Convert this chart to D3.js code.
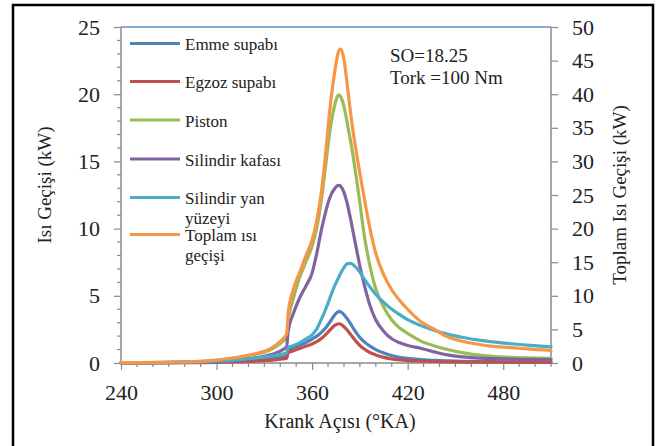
<!DOCTYPE html>
<html>
<head>
<meta charset="utf-8">
<script src="https://cdn.jsdelivr.net/npm/d3@7"></script>
<style>
  html, body { margin: 0; padding: 0; background: #fff; }
  svg { display: block; }
  text { font-family: "Liberation Serif", "DejaVu Serif", serif; fill: #222; }
</style>
</head>
<body>
<svg id="chart" width="660" height="446"></svg>
<script>
// ---- data ----
const angles = [240, 260, 280, 290, 300, 310, 320, 330, 335, 340, 343, 344, 345, 348, 352, 356, 360, 363, 366, 368, 370, 372, 374, 376, 377, 378, 380, 382, 384, 386, 388, 390, 393, 396, 400, 405, 410, 415, 420, 428, 436, 445, 455, 465, 475, 485, 495, 510];

const emme = [0.01, 0.02, 0.04, 0.06, 0.09, 0.14, 0.2, 0.28, 0.33, 0.42, 0.48, 0.5, 0.98, 1.12, 1.3, 1.52, 1.78, 2.0, 2.3, 2.55, 2.85, 3.2, 3.55, 3.78, 3.84, 3.8, 3.6, 3.3, 2.95, 2.55, 2.2, 1.9, 1.55, 1.28, 1.0, 0.75, 0.55, 0.42, 0.34, 0.26, 0.2, 0.16, 0.13, 0.11, 0.1, 0.09, 0.08, 0.08];
const egzoz = [0.01, 0.01, 0.02, 0.03, 0.05, 0.08, 0.12, 0.18, 0.22, 0.28, 0.33, 0.35, 0.78, 0.9, 1.08, 1.25, 1.42, 1.6, 1.85, 2.05, 2.3, 2.55, 2.78, 2.9, 2.92, 2.88, 2.7, 2.45, 2.15, 1.85, 1.55, 1.3, 1.02, 0.8, 0.6, 0.42, 0.3, 0.23, 0.18, 0.14, 0.11, 0.09, 0.07, 0.06, 0.06, 0.05, 0.05, 0.05];
const piston = [0.02, 0.03, 0.07, 0.12, 0.2, 0.35, 0.55, 0.8, 1.05, 1.45, 1.75, 1.85, 3.1, 4.7, 6.3, 7.5, 8.7, 10.1, 12.3, 14.2, 16.2, 17.9, 19.1, 19.85, 19.95, 19.8, 19.1, 17.9, 16.6, 15.2, 13.6, 11.9, 9.3, 7.4, 5.5, 4.15, 3.2, 2.6, 2.2, 1.65, 1.3, 1.0, 0.75, 0.58, 0.48, 0.42, 0.38, 0.34];
const kafasi = [0.02, 0.03, 0.05, 0.07, 0.1, 0.18, 0.3, 0.5, 0.65, 0.88, 1.1, 1.2, 2.4, 3.6, 4.8, 5.7, 6.7, 8.2, 10.0, 11.0, 11.9, 12.55, 12.95, 13.2, 13.22, 13.15, 12.7, 11.9, 10.8, 9.6, 8.4, 7.2, 5.7, 4.4, 3.2, 2.35, 1.8, 1.5, 1.3, 1.1, 0.85, 0.6, 0.45, 0.36, 0.32, 0.29, 0.27, 0.25];
const yanYuzey = [0.02, 0.03, 0.06, 0.09, 0.14, 0.22, 0.32, 0.45, 0.52, 0.62, 0.72, 0.76, 1.15, 1.28, 1.5, 1.78, 2.1, 2.55, 3.3, 3.85, 4.45, 5.1, 5.7, 6.2, 6.45, 6.7, 7.1, 7.38, 7.42, 7.3, 7.05, 6.75, 6.2, 5.7, 5.1, 4.5, 4.0, 3.6, 3.22, 2.8, 2.45, 2.15, 1.9, 1.7, 1.55, 1.43, 1.33, 1.2];
// total heat transfer, plotted on the secondary (right) axis
const toplam = [0.05, 0.08, 0.15, 0.25, 0.45, 0.75, 1.15, 1.75, 2.3, 3.2, 3.95, 4.3, 7.4, 10.8, 13.4, 15.9, 18.3, 21.3, 25.8, 30.0, 35.0, 39.5, 43.0, 45.8, 46.6, 46.7, 45.2, 41.5, 37.5, 34.0, 31.0, 28.2, 24.2, 20.4, 16.3, 13.1, 10.9, 9.3, 8.0, 6.2, 5.1, 3.9, 3.2, 2.75, 2.45, 2.3, 2.1, 1.87];

const legendLines = [["Emme supabı"], ["Egzoz supabı"], ["Piston"], ["Silindir kafası"], ["Silindir yan", "yüzeyi"], ["Toplam ısı", "geçişi"]];
const seriesColors = ["#4F81BD", "#C0504D", "#9BBB59", "#8064A2", "#4BACC6", "#F79646"];
const seriesValues = [emme, egzoz, piston, kafasi, yanYuzey, toplam];
const seriesAxis = ["left", "left", "left", "left", "left", "right"];

const xTicks = [240, 300, 360, 420, 480];
const yLeftTicks = [0, 5, 10, 15, 20, 25];
const yRightTicks = [0, 5, 10, 15, 20, 25, 30, 35, 40, 45, 50];
const annotation = ["SO=18.25", "Tork =100 Nm"];

// ---- layout ----
const svg = d3.select("#chart");
const plot = { left: 121, right: 551, top: 27, bottom: 363 };
const axisColor = "#8a8a8a";

const x = d3.scaleLinear().domain([240, 510]).range([plot.left, plot.right]);
const yL = d3.scaleLinear().domain([0, 25]).range([plot.bottom, plot.top]);
const yR = d3.scaleLinear().domain([0, 50]).range([plot.bottom, plot.top]);

// outer border
svg.append("rect").attr("x", 13).attr("y", 5).attr("width", 640).attr("height", 446)
  .attr("fill", "none").attr("stroke", "#000").attr("stroke-width", 2.5);

// top plot border (blue)
svg.append("line").attr("x1", plot.left).attr("x2", plot.right)
  .attr("y1", plot.top).attr("y2", plot.top)
  .attr("stroke", "#5b8fcf").attr("stroke-width", 1.5);

// minor ticks
const gMinor = svg.append("g").attr("stroke", axisColor).attr("stroke-width", 1.2);
d3.range(250, 511, 10).forEach(v => {
  if (v % 60 === 0) return;
  gMinor.append("line").attr("x1", x(v)).attr("x2", x(v)).attr("y1", plot.bottom).attr("y2", plot.bottom + 4);
});
d3.range(1, 25, 1).forEach(v => {
  if (v % 5 === 0) return;
  gMinor.append("line").attr("x1", plot.left - 4).attr("x2", plot.left).attr("y1", yL(v)).attr("y2", yL(v));
});

// axes
const xAxis = d3.axisBottom(x).tickValues(xTicks).tickSize(7).tickPadding(14).tickFormat(d3.format("d"));
const gx = svg.append("g").attr("transform", `translate(0,${plot.bottom})`).call(xAxis);
const yAxisL = d3.axisLeft(yL).tickValues(yLeftTicks).tickSize(7).tickPadding(14);
const gyl = svg.append("g").attr("transform", `translate(${plot.left},0)`).call(yAxisL);
const yAxisR = d3.axisRight(yR).tickValues(yRightTicks).tickSize(7).tickPadding(14);
const gyr = svg.append("g").attr("transform", `translate(${plot.right},0)`).call(yAxisR);

[gx, gyl, gyr].forEach(g => {
  g.select(".domain").attr("stroke", axisColor).attr("stroke-width", 1.5);
  g.selectAll(".tick line").attr("stroke", axisColor).attr("stroke-width", 1.2);
  g.selectAll(".tick text").attr("fill", "#222")
    .style("font-family", '"Liberation Serif", serif').style("font-size", "22px");
});
gx.select(".domain").attr("d", `M${plot.left},0H${plot.right}`);
gyl.select(".domain").attr("d", `M0,${plot.bottom}V${plot.top}`);
gyr.select(".domain").attr("d", `M0,${plot.bottom}V${plot.top}`);

// series
const curveFor = (vals, yScale) => d3.line()
  .x((d, i) => x(angles[i]))
  .y(d => yScale(d))
  .curve(d3.curveMonotoneX)(vals);

const gLines = svg.append("g");
seriesValues.forEach((vals, i) => {
  gLines.append("path")
    .attr("d", curveFor(vals, seriesAxis[i] === "right" ? yR : yL))
    .attr("fill", "none")
    .attr("stroke", seriesColors[i])
    .attr("stroke-width", 3.2)
    .attr("stroke-linejoin", "round")
    .attr("stroke-linecap", "round");
});

// legend
const legendY = [43.5, 81.5, 120, 159, 197.5, 234.5];
const gLeg = svg.append("g");
legendLines.forEach((lines, i) => {
  gLeg.append("line").attr("x1", 130).attr("x2", 180)
    .attr("y1", legendY[i]).attr("y2", legendY[i])
    .attr("stroke", seriesColors[i]).attr("stroke-width", 3.2);
  lines.forEach((t, j) => {
    gLeg.append("text").attr("x", 185).attr("y", legendY[i] + 6.5 + j * 19.5)
      .style("font-size", "17px").text(t);
  });
});

// annotation
annotation.forEach((t, i) => {
  svg.append("text").attr("x", 390).attr("y", 62 + i * 21.5)
    .style("font-size", "19px").text(t);
});

// axis titles
svg.append("text").attr("x", (plot.left + plot.right) / 2 + 4).attr("y", 428)
  .attr("text-anchor", "middle").style("font-size", "20px").text("Krank Açısı (°KA)");
svg.append("text").attr("transform", "translate(51,185) rotate(-90)")
  .attr("text-anchor", "middle").style("font-size", "19px").text("Isı Geçişi (kW)");
svg.append("text").attr("transform", "translate(626,195) rotate(-90)")
  .attr("text-anchor", "middle").style("font-size", "19px").text("Toplam Isı Geçişi (kW)");
</script>
</body>
</html>
